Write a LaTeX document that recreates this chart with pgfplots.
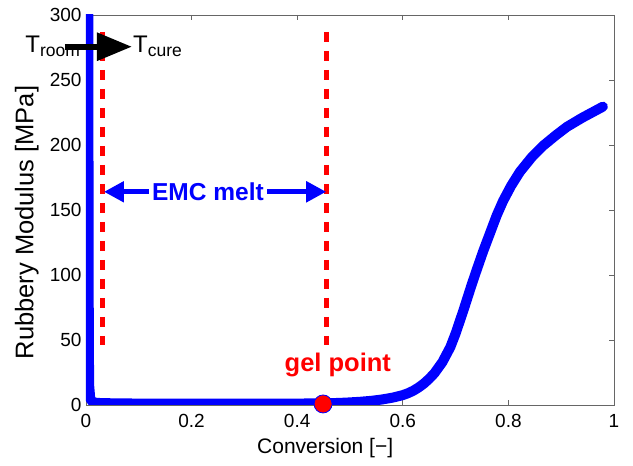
\documentclass[border=0pt]{standalone}
\usepackage{pgfplots}
\pgfplotsset{compat=1.18}
\usepackage{fontspec}
\setmainfont{Liberation Sans}
\usetikzlibrary{arrows.meta}
\definecolor{mblue}{RGB}{0,0,255}
\definecolor{mred}{RGB}{255,0,0}
\begin{document}
\begin{tikzpicture}
\useasboundingbox (-86pt,-61pt) rectangle (547pt,405pt);
\begin{axis}[
  scale only axis, width=528pt, height=390pt,
  xmin=0, xmax=1, ymin=0, ymax=300,
  xtick={0,0.2,0.4,0.6,0.8,1}, ytick={0,50,...,300},
  xticklabels={0,0.2,0.4,0.6,0.8,1},
  tick align=inside, major tick length=5pt,
  axis line style={black!60, line width=0.8pt},
  tick style={black!60, line width=0.8pt},
  /pgf/number format/assume math mode=true,
  ticklabel style={font=\fontsize{19}{21}\selectfont},
  yticklabel style={xshift=-1pt},
  xticklabel style={yshift=-6pt},
  xlabel={Conversion [−]},
  ylabel={Rubbery Modulus [MPa]},
  xlabel style={font=\fontsize{21}{23}\selectfont, at={(axis description cs:0.453,0)}, anchor=center, yshift=-43pt},
  ylabel style={font=\fontsize{25.5}{27}\selectfont, at={(axis description cs:-0.112,0.468)}, anchor=center},
  clip mode=individual,
]
\addplot[mblue, line width=10pt, line join=round, line cap=round] coordinates {
(0.0045,300) (0.0047,200) (0.005,100) (0.0055,40) (0.006,15) (0.008,5) (0.012,2.5)
(0.02,1.6) (0.05,1.3) (0.1,1.1) (0.2,1.0) (0.3,1.0) (0.4,1.1) (0.45,1.3) (0.48,1.6) (0.5,2.0)
(0.52,2.5) (0.54,3.2) (0.56,4.2) (0.58,5.6) (0.6,7.6) (0.61,9.1) (0.62,11) (0.63,13.5) (0.64,16.5)
(0.65,20.2) (0.66,24.5) (0.675,33) (0.69,44.5) (0.70,55) (0.715,73) (0.73,92) (0.74,104)
(0.752,118) (0.765,132) (0.778,146) (0.79,157) (0.805,168.5) (0.822,179.5) (0.845,191)
(0.866,199.5) (0.89,207.5) (0.911,214) (0.94,221) (0.979,229.5)
};
\addplot[mred, line width=5pt, dash pattern=on 10pt off 9pt] coordinates {(0.032,287) (0.032,46)};
\addplot[mred, line width=5pt, dash pattern=on 10pt off 9pt] coordinates {(0.455,287) (0.455,46)};
\addplot[only marks, mark=*, mark size=9pt, mark options={fill=mred, draw=mblue, line width=0.8pt}] coordinates {(0.449,0.8)};
\draw[mblue, line width=5pt, {Triangle[length=20pt,width=20pt]}-{Triangle[length=20pt,width=20pt]}] (axis cs:0.034,164) -- (axis cs:0.455,164);
\node[fill=white, inner sep=3pt, text=mblue, font=\fontsize{24.5}{26}\selectfont\bfseries] at (axis cs:0.231,164) {EMC melt};
\node[text=mred, font=\fontsize{25.5}{27}\selectfont\bfseries] at (axis cs:0.477,30.8) {gel point};
\node[anchor=base east, inner sep=0pt, font=\fontsize{24}{26}\selectfont] at (axis cs:-0.011,270.8) {T\raisebox{-3.5pt}{\fontsize{17.5}{19}\selectfont room}};
\draw[black, line width=6pt, -{Triangle[length=35pt,width=27pt]}] (axis cs:-0.04,275.6) -- (axis cs:0.087,275.6);
\node[anchor=base west, inner sep=0pt, font=\fontsize{24}{26}\selectfont] at (axis cs:0.089,270.8) {T\raisebox{-3.5pt}{\fontsize{17.5}{19}\selectfont cure}};
\end{axis}
\end{tikzpicture}
\end{document}
